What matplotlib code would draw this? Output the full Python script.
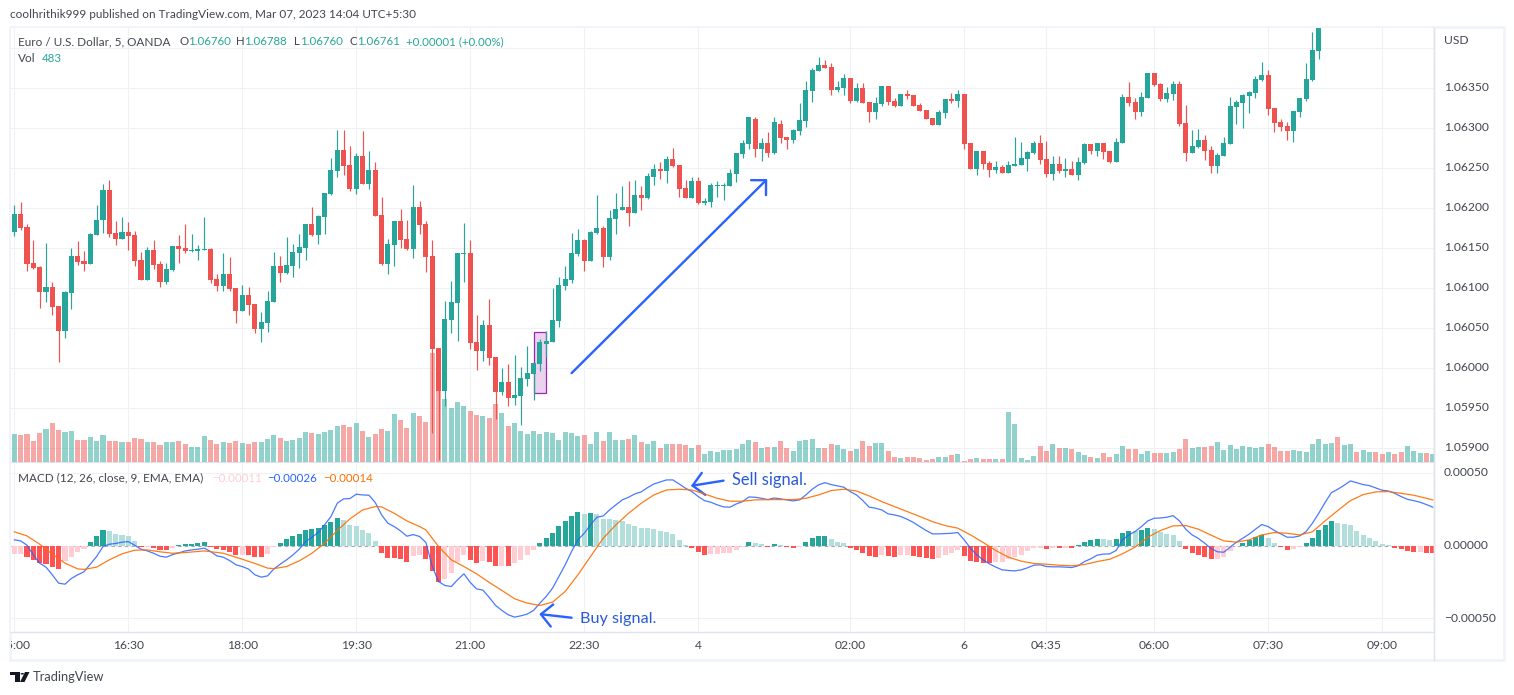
import numpy as np
import matplotlib
matplotlib.use("Agg")
import matplotlib.pyplot as plt
from matplotlib.patches import Rectangle, Circle, Polygon
from matplotlib.transforms import Bbox

plt.rcParams['font.family'] = ['Lato', 'Noto Sans', 'DejaVu Sans']

# prices are written as points above 1.05000 (1350 = 1.06350)
opens = [1169,1192,1176,1131,1126,1094,1101,1077,1046,1093,1139,1133,1129,1166,1184,1222,1168,1161,1169,1166,
         1134,1109,1147,1129,1107,1122,1152,1149,1146,1146,1147,1148,1111,1102,1117,1099,1071,1091,1079,1048,
         1056,1082,1127,1118,1127,1143,1149,1179,1166,1188,1217,1246,1272,1253,1223,1264,1229,1247,1191,1129,
         1153,1183,1161,1148,1201,1179,1139,1024,971,1059,1081,1142,1143,1032,1021,1053,1013,969,982,962,
         964,986,992,1004,1030,1032,1058,1102,1109,1142,1159,1133,1168,1174,1138,1186,1197,1201,1193,1216,
         1212,1238,1248,1246,1261,1253,1224,1212,1233,1206,1207,1227,1227,1227,1242,1267,1279,1311,1273,1281,
         1268,1304,1288,1284,1296,1308,1346,1371,1378,1376,1347,1349,1362,1333,1349,1332,1319,1329,1352,1333,
         1327,1342,1341,1328,1322,1312,1303,1318,1336,1333,1342,1281,1248,1271,1256,1247,1251,1243,1252,1253,
         1261,1268,1281,1261,1242,1254,1246,1248,1241,1256,1279,1271,1281,1271,1257,1281,1338,1332,1319,1337,
         1368,1354,1336,1342,1354,1306,1268,1276,1284,1272,1252,1264,1279,1326,1331,1339,1343,1359,1366,1324,
         1307,1302,1296,1319,1336,1359,1396]
highs = [1203,1207,1179,1160,1127,1156,1107,1077,1096,1149,1158,1146,1168,1203,1229,1234,1183,1188,1182,1171,
         1144,1151,1159,1133,1131,1152,1166,1179,1167,1153,1188,1149,1117,1143,1138,1099,1103,1101,1079,1069,
         1096,1144,1139,1163,1154,1167,1179,1201,1191,1218,1262,1297,1297,1277,1268,1296,1271,1257,1213,1161,
         1183,1198,1184,1228,1208,1183,1159,1024,1083,1108,1143,1181,1159,1066,1059,1086,1013,999,1004,1016,
         1001,1027,1006,1036,1046,1099,1113,1127,1168,1173,1161,1171,1216,1177,1197,1218,1227,1233,1234,1227,
         1243,1254,1257,1264,1274,1253,1234,1238,1238,1212,1231,1233,1231,1248,1268,1284,1313,1313,1287,1295,
         1313,1309,1288,1298,1331,1358,1374,1388,1384,1381,1358,1367,1362,1356,1356,1332,1338,1352,1352,1337,
         1342,1347,1341,1331,1322,1312,1322,1336,1343,1347,1342,1281,1271,1271,1258,1258,1253,1258,1288,1282,
         1271,1283,1291,1283,1264,1264,1262,1258,1263,1281,1279,1281,1281,1271,1287,1342,1357,1337,1344,1368,
         1368,1356,1351,1358,1358,1328,1297,1298,1291,1277,1268,1288,1338,1334,1342,1346,1364,1382,1372,1324,
         1311,1307,1321,1337,1381,1419,1440]
lows = [1164,1172,1121,1123,1074,1082,1066,1007,1037,1073,1128,1121,1129,1166,1168,1163,1153,1161,1147,1127,
        1109,1109,1123,1101,1104,1121,1131,1143,1144,1134,1147,1106,1096,1096,1096,1056,1071,1066,1043,1032,
        1044,1082,1107,1117,1113,1124,1134,1164,1154,1167,1216,1238,1241,1221,1217,1229,1223,1189,1128,1117,
        1127,1149,1147,1137,1167,1119,918,884,952,1043,1033,1107,1023,997,1008,1003,936,966,952,953,
        928,977,959,996,1013,1032,1051,1097,1106,1139,1121,1133,1167,1126,1134,1167,1197,1177,1193,1197,
        1211,1228,1236,1231,1251,1213,1212,1212,1204,1203,1201,1213,1209,1227,1232,1262,1273,1263,1258,1263,
        1267,1281,1273,1281,1291,1301,1332,1371,1374,1341,1344,1341,1331,1332,1331,1307,1311,1327,1328,1326,
        1327,1336,1327,1321,1311,1303,1303,1312,1331,1326,1273,1248,1241,1248,1238,1243,1243,1243,1252,1253,
        1246,1267,1254,1238,1234,1243,1238,1241,1234,1254,1267,1264,1261,1256,1257,1281,1327,1311,1314,1337,
        1352,1333,1332,1334,1302,1258,1268,1274,1259,1243,1243,1264,1279,1304,1299,1318,1337,1358,1316,1294,
        1296,1284,1282,1313,1333,1358,1386]
closes = [1192,1174,1130,1124,1094,1101,1076,1046,1094,1139,1132,1129,1167,1184,1222,1167,1161,1169,1164,1133,
          1109,1147,1128,1107,1123,1152,1148,1146,1147,1148,1148,1109,1102,1117,1098,1071,1091,1078,1048,1057,
          1083,1127,1118,1128,1144,1151,1179,1166,1189,1218,1247,1272,1252,1223,1264,1229,1247,1189,1129,1154,
          1183,1159,1148,1201,1178,1138,1023,971,1061,1082,1143,1143,1031,1021,1053,1012,969,982,962,966,
          987,993,1006,1032,1033,1059,1103,1111,1143,1159,1133,1169,1174,1138,1187,1198,1201,1193,1216,1212,
          1239,1248,1246,1261,1252,1223,1212,1233,1206,1208,1228,1228,1228,1243,1268,1281,1313,1273,1281,1268,
          1307,1287,1284,1297,1309,1347,1372,1378,1374,1347,1351,1362,1333,1349,1331,1319,1331,1352,1332,1327,
          1342,1339,1327,1321,1311,1303,1319,1336,1333,1342,1279,1248,1271,1254,1247,1251,1243,1253,1254,1262,
          1269,1281,1259,1242,1254,1246,1248,1241,1257,1279,1271,1281,1269,1257,1282,1338,1331,1319,1338,1368,
          1353,1336,1343,1354,1304,1268,1277,1284,1271,1252,1266,1281,1327,1332,1341,1344,1361,1366,1323,1306,
          1301,1296,1321,1337,1361,1397,1430]

# volume of every bar, the last ones belong to candles above the visible range
volumes = [1680,1620,1680,1260,1740,1980,2340,1920,1800,1860, 1320,1320,1500,1260,1620,1260,1260,1200,1200,1440,
           1380,1200,1200,1020,1200,1200,1260,1080,900,900, 1560,1320,1080,1200,1140,1260,1140,1080,1200,1200,
           1380,1620,1440,1260,1320,1440,1800,1740,1680,1800, 1920,2160,2220,2100,2340,1860,1500,1680,1980,1860,
           2880,2520,2040,2940,2760,2400,6540,4260,3780,3240, 3600,3360,3060,2820,2760,2640,3480,2940,2160,2340,
           1860,1680,1860,1680,1800,1740,1320,1800,1740,1560, 1620,1080,1800,1260,1800,1320,1320,1380,1620,1200,
           1080,1260,840,1080,1080,1080,1020,840,1020,480, 660,600,720,720,780,1080,1320,1200,840,900,
           900,1260,840,660,1260,1320,1380,840,840,1080, 1020,780,660,780,1260,960,1140,1140,660,300,
           240,300,300,240,120,180,300,300,420,480, 60,180,240,180,180,180,180,3000,2280,240,
           120,360,960,660,1080,840,840,780,600,420, 300,240,540,300,480,960,780,780,480,660,
           540,540,540,600,780,1380,840,900,900,960, 1200,720,1020,780,960,900,840,900,1080,900,
           660,660,720,660,600,1080,1380,1080,1140,1500, 1020,1080,600,720,600,600,480,600,480,600,
           960,660,540,540,480]
hidden_up = [1,1,0,1,1,0,1,1,0,0,1,0,0,1,1,1,0,1]

# MACD values in millionths
macd_line = [39,32,2,-64,-121,-148,-201,-258,-265,-226,-201,-180,-128,-75,-7,9,14,23,27,2,
             -25,-37,-53,-73,-80,-62,-50,-37,-30,-25,-18,-41,-71,-80,-103,-132,-144,-162,-201,-217,
             -208,-160,-128,-98,-64,-25,27,57,89,142,199,290,320,322,352,347,345,295,210,153,
             130,100,64,75,62,21,-144,-247,-274,-281,-235,-194,-253,-297,-306,-356,-411,-445,-475,-491,
             -482,-470,-445,-395,-349,-292,-212,-132,-41,39,84,142,194,203,244,279,313,331,354,368,
             397,422,436,450,450,422,393,370,336,308,297,279,265,263,285,301,333,331,324,315,
             326,320,313,306,313,347,386,416,431,418,409,400,370,347,308,263,256,244,217,210,
             199,180,158,130,103,80,80,82,84,89,39,-18,-64,-98,-126,-148,-167,-171,-174,-167,
             -153,-135,-132,-144,-146,-146,-148,-151,-139,-110,-91,-66,-59,-57,-34,39,73,96,130,169,
             187,189,194,205,169,112,73,48,16,-21,-43,-46,-11,23,50,78,112,144,130,103,
             80,57,57,66,96,153,221,295,363,386,413,443,431,418,411,395,379,374,358,336,
             317,308,297,281,263]
signal_idx = [0,2,4,6,8,10,11,13,15,17,19,21,23,25,27,30,33,36,38,40,41,43,45,47,49,51,53,55,57,58,60,62,64,65,67,
              69,71,73,75,77,79,81,83,85,87,89,91,93,95,97,99,101,103,105,107,109,111,113,115,117,120,123,125,127,
              129,131,133,135,137,139,141,143,145,147,149,151,153,155,157,159,161,163,165,167,169,171,173,175,177,
              179,181,183,185,187,189,191,193,195,197,199,201,203,205,207,209,211,213,215,217,219,221,223,224]
signal_line = [94,66,9,-59,-121,-160,-164,-148,-98,-57,-32,-30,-43,-53,-48,-37,-53,-94,-123,-155,-158,-144,-105,-53,16,
               103,183,244,267,265,221,169,130,107,-7,-98,-144,-194,-253,-308,-365,-395,-411,-388,-315,-201,-75,50,142,221,
               290,347,381,386,381,354,324,304,304,313,315,315,324,347,377,386,374,340,301,267,233,199,164,137,119,
               73,21,-34,-80,-107,-123,-128,-135,-139,-130,-110,-94,-57,-11,57,103,135,137,112,71,32,23,39,73,89,
               84,73,94,169,240,308,349,368,370,358,345,324,313]
macd_hist = [-57,-55,-82,-96,-123,-130,-144,-158,-103,-82,-41,-21,27,64,107,100,82,75,64,32,
             -9,-7,-14,-34,-34,-14,5,9,11,18,21,-9,-27,-34,-41,-64,-62,-68,-78,-78,
             -57,-7,14,46,66,80,107,116,123,142,162,189,176,144,135,107,87,32,-50,-84,
             -84,-91,-112,-75,-68,-91,-174,-247,-228,-187,-110,-64,-98,-119,-105,-112,-139,-137,-139,-121,
             -98,-64,-32,18,55,87,135,169,203,231,217,224,217,185,185,176,169,148,135,121,
             121,114,100,94,80,41,7,-16,-43,-64,-57,-55,-53,-50,-30,-11,25,16,9,-7,
             11,5,-9,-16,-9,25,53,66,68,46,25,18,-16,-30,-48,-71,-78,-64,-71,-78,
             -66,-62,-71,-78,-84,-91,-84,-64,-48,-34,-71,-105,-112,-119,-119,-116,-110,-91,-78,-64,
             -37,-16,-14,-23,-14,-16,-14,-16,5,25,39,46,43,39,46,87,100,98,107,121,
             114,94,80,73,32,-23,-50,-64,-78,-94,-91,-78,-37,0,18,37,57,73,53,18,
             -11,-30,-21,-9,18,53,107,142,169,155,148,142,100,73,53,32,11,5,-14,-27,
             -37,-46,-43,-48,-48]

price_ticks = [1.064,1.0635,1.063,1.0625,1.062,1.0615,1.061,1.0605,1.06,1.0595,1.059]
price_labels = ['','1.06350','1.06300','1.06250','1.06200','1.06150','1.06100','1.06050','1.06000','1.05950','1.05900']
macd_ticks = [0.0005,0.0,-0.0005]
macd_tick_labels = ['0.00050','0.00000','\u22120.00050']
time_pos = [0,18,36,54,72,90,108,132,150,163,180,198,216]
time_labels = ['15:00','16:30','18:00','19:30','21:00','22:30','4','02:00','6','04:35','06:00','07:30','09:00']

W, H = 1514, 695
UP, DOWN = '#26a69a', '#ef5350'
GRID = '#f0f1f5'
FRAME = '#f0f3fa'
LINE = '#e0e3eb'
TXT = '#434651'
BLUE = '#2962ff'
FS = 8.7
FS_TEXT = 8.5
FS_NUM = 8.3


def fx(px):
    return px / W


def fy(py):
    return 1 - py / H


def pane(left, top, right, bottom, z):
    return fig.add_axes([fx(left), fy(bottom), (right - left) / W, (bottom - top) / H], zorder=z)


def label(px, py, s, color=TXT, size=FS_TEXT, **kw):
    return fig.text(fx(px), fy(py), s, color=color, fontsize=size, va='center', zorder=8, **kw)


opens = 1.05 + np.array(opens) * 1e-5
highs = 1.05 + np.array(highs) * 1e-5
lows = 1.05 + np.array(lows) * 1e-5
closes = 1.05 + np.array(closes) * 1e-5
volumes = np.array(volumes)
macd_line = np.array(macd_line) * 1e-6
signal_line = np.array(signal_line) * 1e-6
macd_hist = np.array(macd_hist) * 1e-6
n = len(volumes)
x = np.arange(n)
xlim = (-0.526, 224.2)

fig = plt.figure(figsize=(W / 100, H / 100), dpi=100)

# outer frame of the chart
fig.add_artist(Rectangle((fx(9.5), fy(660)), (1503.5 - 9.5) / W, (660 - 27) / H, transform=fig.transFigure,
                         facecolor='white', edgecolor=FRAME, linewidth=2, zorder=0))

# price pane: grid and axis at the back, volume in the middle, candles on top
ax_price = pane(11, 28, 1434, 462, 1)
ax_vol = pane(11, 28, 1434, 462, 2)
ax_candle = pane(11, 28, 1434, 462, 3)
for ax in (ax_vol, ax_candle):
    ax.patch.set_visible(False)
    ax.set_xlim(xlim)
    ax.axis('off')

ax_price.set_xlim(xlim)
ax_price.set_ylim(1.05 + 881.9e-5, 1.05 + 1424.4e-5)
ax_candle.set_ylim(ax_price.get_ylim())
ax_price.yaxis.tick_right()
ax_price.set_yticks(price_ticks)
ax_price.set_yticklabels(price_labels, color=TXT, fontsize=FS, va='center')
ax_price.set_xticks(time_pos)
ax_price.tick_params(axis='both', length=0, labelbottom=False, pad=7.2)
ax_price.grid(True, color=GRID, linewidth=0.8)
ax_price.set_axisbelow(True)

# volume bars, colour follows the candle, the tail is from the picture
up = list(closes >= opens) + [bool(v) for v in hidden_up]
vol_colors = [UP if u else DOWN for u in up]
ax_vol.bar(x, volumes, width=0.8, color=vol_colors, alpha=0.5, linewidth=0)
ax_vol.set_ylim(0, 26040)

# candles
m = len(opens)
cx = np.arange(m)
colors = [UP if c >= o else DOWN for o, c in zip(opens, closes)]
ax_candle.add_patch(Rectangle((82, 1.05968), 2, 0.00076, facecolor='#9c27b0', alpha=0.2, linewidth=0, zorder=1))
ax_candle.add_patch(Rectangle((82, 1.05968), 2, 0.00076, fill=False, edgecolor='#9c27b0', linewidth=0.9, zorder=1))
ax_candle.vlines(cx, lows, highs, colors=colors, linewidth=0.85, zorder=2)
ax_candle.bar(cx, np.abs(closes - opens), bottom=np.minimum(opens, closes), width=0.8, color=colors, linewidth=0, zorder=3)

# trend arrow
ax_candle.annotate('', xy=(118.9, 1.05 + 1235.6e-5), xytext=(88, 1.05 + 993e-5),
                   arrowprops=dict(arrowstyle='->,head_length=7.6,head_width=7.6', mutation_scale=1,
                                   color=BLUE, linewidth=1.7, shrinkA=0, shrinkB=0))

# macd pane
ax_macd = pane(11, 463, 1434, 632, 3)
ax_macd.set_xlim(xlim)
ax_macd.set_ylim(-593e-6, 566e-6)
ax_macd.yaxis.tick_right()
ax_macd.set_yticks(macd_ticks)
ax_macd.set_yticklabels(macd_tick_labels, color=TXT, fontsize=FS, va='center')
ax_macd.set_xticks(time_pos)
ax_macd.set_xticklabels(time_labels, color=TXT, fontsize=FS)
ax_macd.tick_params(axis='both', length=0)
ax_macd.tick_params(axis='y', pad=7.2)
ax_macd.tick_params(axis='x', pad=5.5)
ax_macd.grid(True, color=GRID, linewidth=0.8)
ax_macd.set_axisbelow(True)

hist_colors = []
for i, h in enumerate(macd_hist):
    rising = i == 0 or macd_hist[i - 1] < h
    if h >= 0:
        hist_colors.append('#26a69a' if rising else '#b2dfdb')
    else:
        hist_colors.append('#ffcdd2' if rising else '#ff5252')
ax_macd.axhline(0, color='#787b86', linewidth=0.8, dashes=(3, 3), alpha=0.6, zorder=1)
ax_macd.bar(x, macd_hist, width=0.8, color=hist_colors, linewidth=0, zorder=2)
ax_macd.plot(x, macd_line, color=BLUE, linewidth=0.9, alpha=0.85, zorder=3)
ax_macd.plot(signal_idx, signal_line, color='#ff6d00', linewidth=0.9, alpha=0.9, zorder=4)

# buy and sell notes
head = '->,head_length=8,head_width=8'
ax_macd.annotate('', xy=(82.9, -470e-6), xytext=(88, -495e-6),
                 arrowprops=dict(arrowstyle=head, mutation_scale=1, color=BLUE, linewidth=1.7, shrinkA=0, shrinkB=0))
ax_macd.annotate('', xy=(106.85, 409e-6), xytext=(112, 445e-6),
                 arrowprops=dict(arrowstyle=head, mutation_scale=1, color=BLUE, linewidth=1.7, shrinkA=0, shrinkB=0))
label(580, 618.5, 'Buy signal.', color='#2a5bd7', size=11.7)
label(732, 480, 'Sell signal.', color='#2a5bd7', size=11.9)

# first time label is cut by the pane edge
first = ax_macd.get_xticklabels()[0]
first.set_clip_box(Bbox([[11, 0], [W, H]]))
first.set_clip_on(True)

for ax in (ax_price, ax_macd):
    for side in ('top', 'left'):
        ax.spines[side].set_visible(False)
    for side in ('right', 'bottom'):
        ax.spines[side].set_color(LINE)
        ax.spines[side].set_linewidth(1.0)

# right axis column and time axis edges
fig.add_artist(plt.Line2D([fx(1434.3), fx(1434.3)], [fy(28), fy(660)], color=LINE, linewidth=1.0, zorder=5))

label(1444, 40.7, 'USD', size=FS)

# texts above the panes
label(10, 14.7, 'coolhrithik999 published on TradingView.com, Mar 07, 2023 14:04 UTC+5:30')
label(18, 41.7, 'Euro / U.S. Dollar, 5, OANDA')
for px, s, col in [(179, 'O', TXT), (188, '1.06760', UP), (236, 'H', TXT), (244, '1.06788', UP),
                   (294, 'L', TXT), (300, '1.06760', UP), (349, 'C', TXT), (357, '1.06761', UP),
                   (406, '+0.00001 (+0.00%)', UP)]:
    label(px, 41.7, s, color=col, size=FS_NUM)
label(18, 59, 'Vol')
label(41.7, 59, '483', color=UP, size=FS_NUM)
label(18, 478, 'MACD (12, 26, close, 9, EMA, EMA)')
label(212, 478, '\u22120.00011', color='#ffcdd2', size=FS_NUM)
label(267, 478, '\u22120.00026', color=BLUE, size=FS_NUM)
label(323, 478, '\u22120.00014', color='#ff6d00', size=FS_NUM)

# logo at the bottom
dark = '#131722'
fig.add_artist(Rectangle((fx(10), fy(675)), 9.5 / W, 3 / H, transform=fig.transFigure, facecolor=dark, linewidth=0))
fig.add_artist(Rectangle((fx(14.5), fy(682)), 5 / W, 10 / H, transform=fig.transFigure, facecolor=dark, linewidth=0))
fig.add_artist(Circle((fx(22.3), fy(673.8)), 1.7 / W, transform=fig.transFigure, facecolor=dark, linewidth=0))
fig.add_artist(Polygon([(fx(25), fy(672)), (fx(29.5), fy(672)), (fx(24.5), fy(682)), (fx(20), fy(682))],
                       transform=fig.transFigure, facecolor=dark, linewidth=0))
label(33, 677, 'TradingView', size=9.3)

fig.savefig('out.png', dpi=100)
